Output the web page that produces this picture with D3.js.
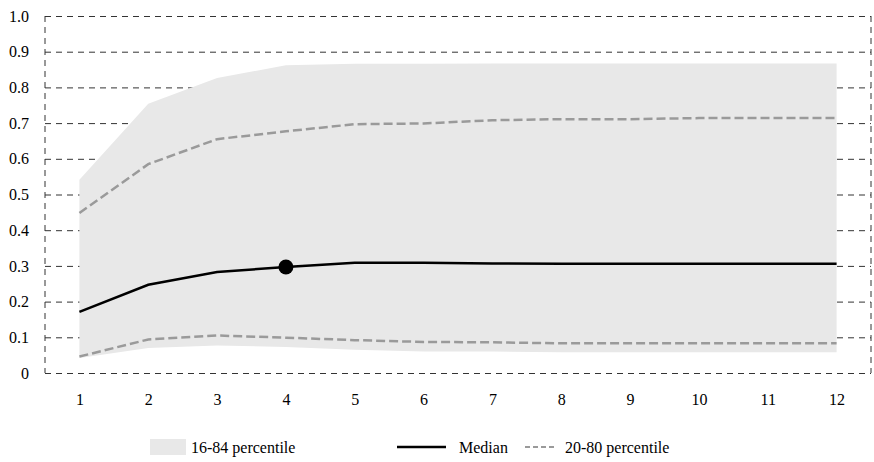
<!DOCTYPE html>
<html>
<head>
    <meta charset="utf-8">
    <title>percentile fan</title>
    <script src="https://cdn.jsdelivr.net/npm/d3@7"></script>
    <style>
        body { margin: 0; background: #fff; }
    </style>
</head>
<body>
<script>
    // horizons and series
    var horizons = [1, 2, 3, 4, 5, 6, 7, 8, 9, 10, 11, 12];
    var p16 = [0.042, 0.070, 0.077, 0.073, 0.065, 0.060, 0.060, 0.058, 0.058, 0.058, 0.058, 0.058];
    var p84 = [0.541, 0.754, 0.826, 0.862, 0.866, 0.866, 0.867, 0.867, 0.867, 0.867, 0.867, 0.867];
    var p20 = [0.046, 0.094, 0.105, 0.099, 0.092, 0.087, 0.086, 0.083, 0.083, 0.083, 0.083, 0.083];
    var p80 = [0.448, 0.585, 0.655, 0.677, 0.697, 0.699, 0.708, 0.711, 0.711, 0.714, 0.714, 0.714];
    var median = [0.171, 0.247, 0.283, 0.297, 0.309, 0.309, 0.307, 0.306, 0.306, 0.306, 0.306, 0.306];
    var markerAt = 4;
    var yTicks = [0, 0.1, 0.2, 0.3, 0.4, 0.5, 0.6, 0.7, 0.8, 0.9, 1.0];
    var legendLabels = ["16-84 percentile", "Median", "20-80 percentile"];

    var width = 874, height = 462;
    // plot box (note: "top" is reserved on window, so use other names)
    var plotL = 45, plotR = 871, plotT = 16, plotB = 373;
    var fontSize = 16;
    var serif = "'Liberation Serif', 'Times New Roman', 'DejaVu Serif', serif";

    var svg = d3.select("body").append("svg")
        .attr("width", width)
        .attr("height", height)
        .attr("font-family", serif);

    var x = d3.scaleLinear().domain([0.5, 12.5]).range([plotL, plotR]);
    var y = d3.scaleLinear().domain([0, 1]).range([plotB, plotT]);

    var gridColor = "#333";

    // grid lines + y labels
    var yAxis = d3.axisLeft(y)
        .tickValues(yTicks)
        .tickSize(-(plotR - plotL))
        .tickPadding(16)
        .tickFormat(function (d) { return d === 0 ? "0" : d3.format(".1f")(d); });

    var gy = svg.append("g")
        .attr("transform", "translate(" + plotL + ",0)")
        .call(yAxis)
        .attr("font-family", serif)
        .attr("font-size", fontSize);
    gy.select(".domain").remove();
    gy.selectAll("line")
        .attr("stroke", gridColor)
        .attr("stroke-width", 1)
        .attr("stroke-dasharray", "6,5");
    gy.selectAll("text")
        .attr("fill", "#000");

    // dashed left / right borders
    svg.selectAll(".vborder")
        .data([plotL, plotR])
        .enter().append("line")
        .attr("x1", function (d) { return d; })
        .attr("x2", function (d) { return d; })
        .attr("y1", plotT)
        .attr("y2", plotB)
        .attr("stroke", gridColor)
        .attr("stroke-width", 1)
        .attr("stroke-dasharray", "6,5");

    // 16-84 band
    var area = d3.area()
        .x(function (d, i) { return x(horizons[i]); })
        .y0(function (d, i) { return y(p16[i]); })
        .y1(function (d, i) { return y(p84[i]); });

    svg.append("path")
        .datum(horizons)
        .attr("d", area)
        .attr("fill", "#e8e8e8");

    var line = function (vals) {
        return d3.line()
            .x(function (d, i) { return x(horizons[i]); })
            .y(function (d) { return y(d); })(vals);
    };

    // 20-80 dashed lines
    [p20, p80].forEach(function (vals) {
        svg.append("path")
            .attr("d", line(vals))
            .attr("fill", "none")
            .attr("stroke", "#9a9a9a")
            .attr("stroke-width", 2.5)
            .attr("stroke-dasharray", "9,4");
    });

    // median
    svg.append("path")
        .attr("d", line(median))
        .attr("fill", "none")
        .attr("stroke", "#000")
        .attr("stroke-width", 2.5);

    svg.append("circle")
        .attr("cx", x(markerAt))
        .attr("cy", y(median[horizons.indexOf(markerAt)]))
        .attr("r", 7.5)
        .attr("fill", "#000");

    // x labels
    var xAxis = d3.axisBottom(x)
        .tickValues(horizons)
        .tickSize(0)
        .tickPadding(21)
        .tickFormat(d3.format("d"));

    var gx = svg.append("g")
        .attr("transform", "translate(0," + plotB + ")")
        .call(xAxis)
        .attr("font-family", serif)
        .attr("font-size", fontSize);
    gx.select(".domain").remove();
    gx.selectAll("text")
        .attr("fill", "#000");

    // legend
    var ly = 447;
    var lg = svg.append("g")
        .attr("font-family", serif)
        .attr("font-size", fontSize);
    lg.append("rect")
        .attr("x", 150).attr("y", ly - 8)
        .attr("width", 36).attr("height", 16)
        .attr("fill", "#e8e8e8");
    lg.append("text")
        .attr("x", 191).attr("y", ly).attr("dy", "0.35em")
        .text(legendLabels[0]);

    lg.append("line")
        .attr("x1", 397).attr("x2", 446)
        .attr("y1", ly).attr("y2", ly)
        .attr("stroke", "#000").attr("stroke-width", 2.5);
    lg.append("text")
        .attr("x", 459).attr("y", ly).attr("dy", "0.35em")
        .text(legendLabels[1]);

    lg.append("line")
        .attr("x1", 525).attr("x2", 557)
        .attr("y1", ly).attr("y2", ly)
        .attr("stroke", "#9a9a9a").attr("stroke-width", 2)
        .attr("stroke-dasharray", "5,3");
    lg.append("text")
        .attr("x", 565).attr("y", ly).attr("dy", "0.35em")
        .text(legendLabels[2]);
</script>
</body>
</html>
